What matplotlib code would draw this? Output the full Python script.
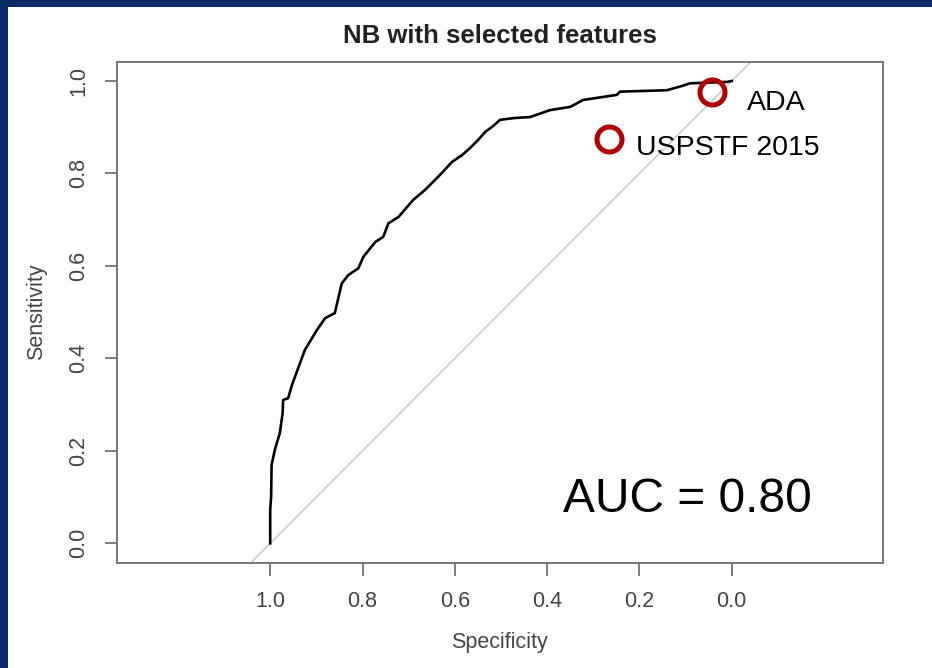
import matplotlib
matplotlib.use("Agg")
import matplotlib.pyplot as plt
from matplotlib.patches import Rectangle

# ROC curve for the naive Bayes model (specificity runs right-to-left)
specificity = [1.0, 1.0, 0.998, 0.997, 0.990, 0.979, 0.973, 0.972, 0.961, 0.953,
               0.925, 0.899, 0.881, 0.860, 0.845, 0.831, 0.809, 0.798, 0.772, 0.755,
               0.744, 0.722, 0.690, 0.665, 0.632, 0.606, 0.584, 0.567, 0.550, 0.534,
               0.519, 0.502, 0.470, 0.437, 0.405, 0.394, 0.350, 0.322, 0.249, 0.242,
               0.141, 0.112, 0.090, 0.011, 0.0]
sensitivity = [0.0, 0.072, 0.101, 0.169, 0.202, 0.239, 0.282, 0.310, 0.314, 0.342,
               0.418, 0.461, 0.487, 0.498, 0.562, 0.580, 0.595, 0.620, 0.652, 0.663,
               0.692, 0.706, 0.743, 0.764, 0.797, 0.825, 0.840, 0.855, 0.872, 0.890,
               0.901, 0.916, 0.920, 0.922, 0.933, 0.937, 0.944, 0.959, 0.970, 0.977,
               0.980, 0.988, 0.995, 0.998, 1.0]

# screening guidelines as single operating points
guide_names = ["ADA", "USPSTF 2015"]
guide_spec = [0.042, 0.266]
guide_sens = [0.977, 0.875]
auc = 0.80

ticks = [1.0, 0.8, 0.6, 0.4, 0.2, 0.0]
tick_labels = ["1.0", "0.8", "0.6", "0.4", "0.2", "0.0"]

plt.rcParams["font.family"] = ["Liberation Sans", "DejaVu Sans"]

fig = plt.figure(figsize=(9.32, 6.68), dpi=100)
fig.patch.set_facecolor("white")
# slide frame: navy strips along top and left
fig.patches.append(Rectangle((0, 1 - 7 / 668), 1, 7 / 668, transform=fig.transFigure,
                             facecolor="#0a2b66", edgecolor="none", zorder=0))
fig.patches.append(Rectangle((0, 0), 8 / 932, 1, transform=fig.transFigure,
                             facecolor="#0a2b66", edgecolor="none", zorder=0))

ax = fig.add_axes([0.1252, 0.1576, 0.8226, 0.75])
ax.set_xlim(1.3326, -0.3285)
ax.set_ylim(-0.042, 1.0417)

ax.axline((1, 0), (0, 1), color="#cccccc", lw=1.2, zorder=1)
ax.plot(specificity, sensitivity, color="black", lw=1.9, zorder=2)
ax.plot(guide_spec, guide_sens, "o", ms=18, mfc="none", mec="#b00000", mew=3.6, zorder=3)

ax.text(-0.0325, 0.937, guide_names[0], fontsize=20.5, ha="left", va="baseline")
ax.text(0.207, 0.840, guide_names[1], fontsize=20.5, ha="left", va="baseline")
ax.text(0.365, 0.068, f"AUC = {auc:.2f}", fontsize=34.5, ha="left", va="baseline")

ax.set_xticks(ticks)
ax.set_xticklabels(tick_labels)
ax.set_yticks(ticks)
ax.set_yticklabels(tick_labels, rotation=90, va="center")
ax.tick_params(axis="both", direction="out", length=9, width=1.2, color="#666666",
               labelcolor="#444444", labelsize=15.5)
ax.tick_params(axis="x", pad=11.5)
ax.tick_params(axis="y", pad=11)
for s in ax.spines.values():
    s.set_color("#777777")
    s.set_linewidth(1.4)

ax.set_xlabel("Specificity", fontsize=15.5, color="#444444", va="center")
ax.xaxis.set_label_coords(0.4993, -0.160)
ax.set_ylabel("Sensitivity", fontsize=15.5, color="#444444", va="center")
ax.yaxis.set_label_coords(-0.104, 0.502)
ax.set_title("NB with selected features", fontsize=18.5, fontweight="bold", color="#222222",
             y=1.0367, pad=0)

fig.savefig("out.png", dpi=100)
